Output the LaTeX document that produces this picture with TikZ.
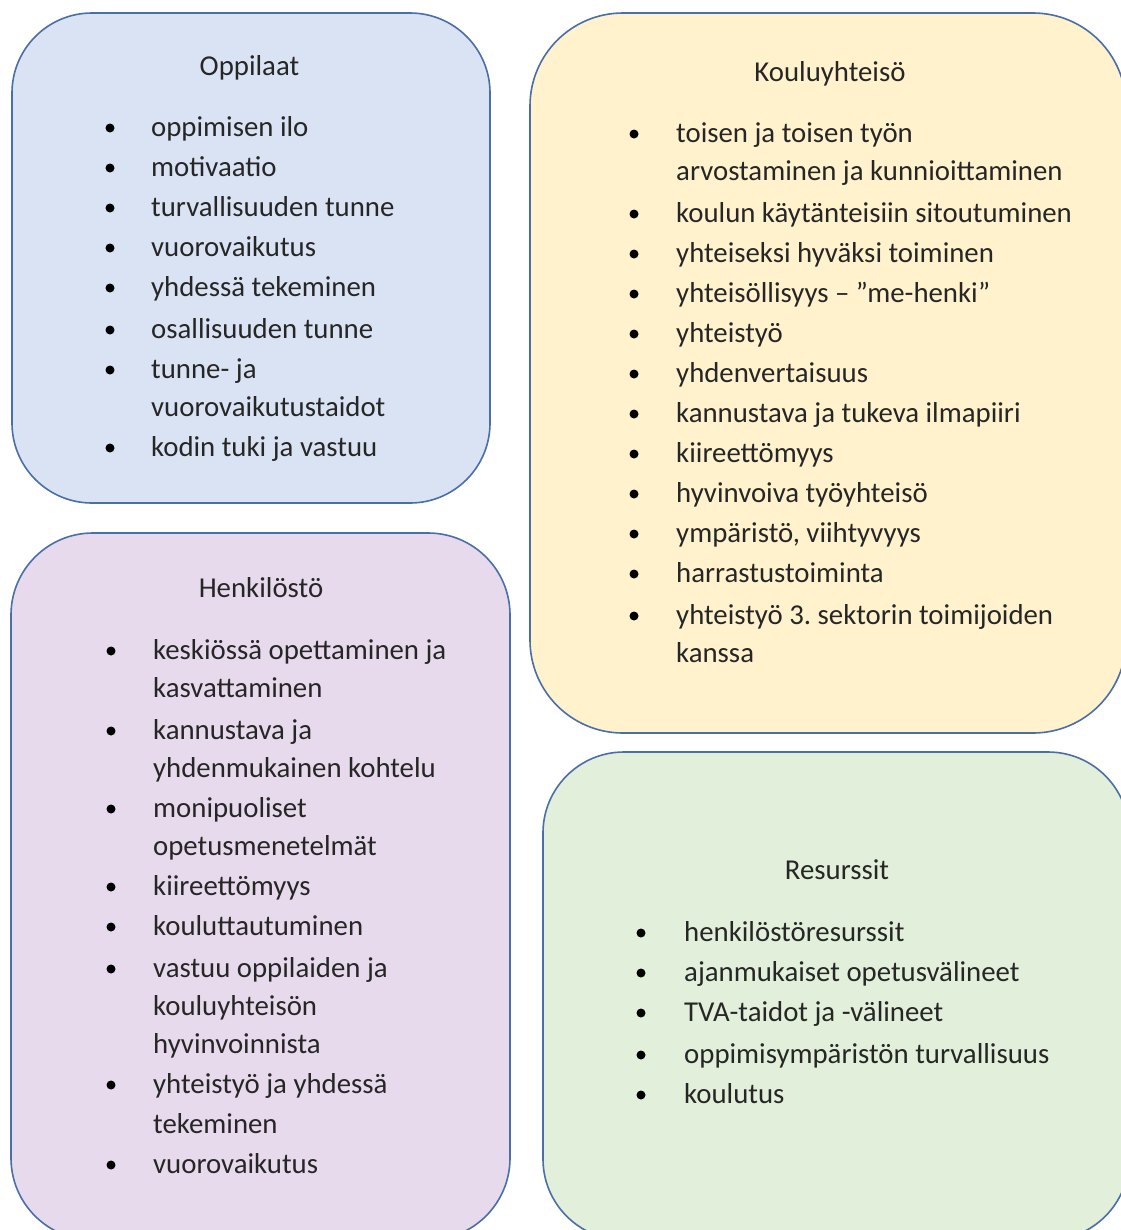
\documentclass[tikz,border=0pt]{standalone}
\usepackage{fontspec}
\setmainfont{Carlito}
\frenchspacing
\definecolor{edge}{HTML}{4A6EA8}
\definecolor{txt}{HTML}{262626}
\definecolor{oppfill}{HTML}{DAE3F3}
\definecolor{koufill}{HTML}{FFF2CC}
\definecolor{henfill}{HTML}{E6DAEC}
\definecolor{resfill}{HTML}{E2EFDA}
\newcommand\myitemfont{\fontsize{28.8bp}{34bp}\selectfont}
\tikzset{
  panel/.style={draw=edge, line width=1.6bp, inner sep=0pt, outer sep=0pt},
  itemtext/.style={anchor=base west, inner sep=0pt, text=txt, font=\myitemfont},
  titletext/.style={anchor=base, inner sep=0pt, text=txt, font=\myitemfont},
  bul/.style={circle, fill=black, inner sep=0pt, minimum size=9bp}
}
\begin{document}
\begin{tikzpicture}[x=1bp,y=-1bp]
\useasboundingbox (0,0) rectangle (1121,1230);
\clip (0,0) rectangle (1121,1230);
\fill[white] (0,0) rectangle (1121,1230);
% panels
\node[panel, fill=oppfill, rounded corners=80bp, minimum width=478bp, minimum height=490bp] (opp) at (251,258) {};
\node[panel, fill=koufill, rounded corners=93bp, minimum width=596bp, minimum height=720bp] (kou) at (828,373) {};
\node[panel, fill=henfill, rounded corners=82bp, minimum width=499bp, minimum height=707bp] (hen) at (260.5,886.5) {};
\node[panel, fill=resfill, rounded corners=81bp, minimum width=586bp, minimum height=488bp] (res) at (836,996) {};
% titles
\node[titletext] (opptitle) at (249.5,75) {Oppilaat};
\node[titletext] (koutitle) at (830,81) {Kouluyhteisö};
\node[titletext] (hentitle) at (261,597) {Henkilöstö};
\node[titletext] (restitle) at (837,879) {Resurssit};
% Oppilaat
\foreach \b/\t [count=\i] in {136/oppimisen ilo, 176/motivaatio, 216/turvallisuuden tunne, 256/vuorovaikutus, 296/yhdessä tekeminen, 338/osallisuuden tunne, 378/tunne- ja, 416/vuorovaikutustaidot, 456/kodin tuki ja vastuu}
  {\node[itemtext] (opp-\i) at (151,\b) {\t};}
\foreach \y [count=\i] in {128,168,208,248,288,330,370,448}
  {\node[bul] (oppb-\i) at (110,\y) {};}
% Kouluyhteisö
\foreach \b/\t [count=\i] in {142/toisen ja toisen työn, 180/arvostaminen ja kunnioittaminen, 222/koulun käytänteisiin sitoutuminen, 262/yhteiseksi hyväksi toiminen, 302/yhteisöllisyys – ”me-henki”, 342/yhteistyö, 382/yhdenvertaisuus, 422/kannustava ja tukeva ilmapiiri, 462/kiireettömyys, 502/hyvinvoiva työyhteisö, 542/{ympäristö, viihtyvyys}, 582/harrastustoiminta, 624/yhteistyö 3. sektorin toimijoiden, 662/kanssa}
  {\node[itemtext] (kou-\i) at (676,\b) {\t};}
\foreach \y [count=\i] in {134,214,254,294,334,374,414,454,494,534,574,616}
  {\node[bul] (koub-\i) at (634,\y) {};}
% Henkilöstö
\foreach \b/\t [count=\i] in {659/keskiössä opettaminen ja, 697/kasvattaminen, 739/kannustava ja, 777/yhdenmukainen kohtelu, 817/monipuoliset, 855/opetusmenetelmät, 895/kiireettömyys, 935/kouluttautuminen, 977/vastuu oppilaiden ja, 1015/kouluyhteisön, 1053/hyvinvoinnista, 1093/yhteistyö ja yhdessä, 1133/tekeminen, 1173/vuorovaikutus}
  {\node[itemtext] (hen-\i) at (153,\b) {\t};}
\foreach \y [count=\i] in {651,731,809,887,927,969,1085,1165}
  {\node[bul] (henb-\i) at (111,\y) {};}
% Resurssit
\foreach \b/\t [count=\i] in {941/henkilöstöresurssit, 981/ajanmukaiset opetusvälineet, 1021/TVA-taidot ja -välineet, 1063/oppimisympäristön turvallisuus, 1103/koulutus}
  {\node[itemtext] (res-\i) at (684,\b) {\t};}
\foreach \y [count=\i] in {933,973,1013,1055,1095}
  {\node[bul] (resb-\i) at (641,\y) {};}
\end{tikzpicture}
\end{document}
